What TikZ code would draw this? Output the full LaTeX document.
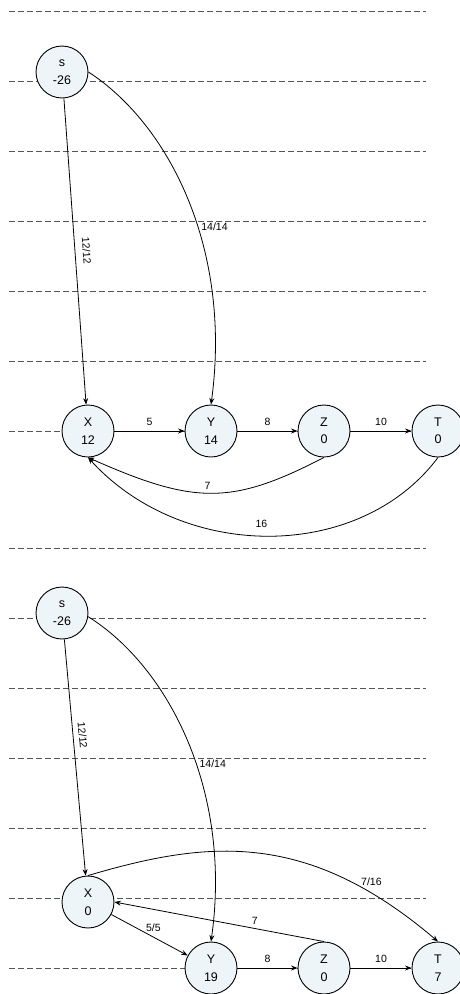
\documentclass[tikz,border=0pt]{standalone}
\usepackage{fontspec}
\setmainfont{Liberation Sans}
\usepackage{xcolor}
\usetikzlibrary{arrows.meta}

\definecolor{vtxfill}{HTML}{EEF5F8}
\definecolor{levelgray}{HTML}{555555}

\begin{document}
\begin{tikzpicture}[x=1pt,y=-1pt,
    vertex/.style={circle,draw,line width=0.9pt,fill=vtxfill,minimum size=52pt,inner sep=0pt,
                   align=center,font=\fontsize{12.5}{17.5}\selectfont},
    flow/.style={-{Stealth[length=6.5pt,width=5pt]},line width=0.8pt},
    lbl/.style={font=\fontsize{10.5}{12}\selectfont},
    level/.style={draw=levelgray,line width=0.75pt,dash pattern=on 5.5pt off 3.5pt}]
  \useasboundingbox (0,0) rectangle (460,994);

  % height levels behind both networks
  \foreach \yy in {11,81,151,221,291,361,431,548,618,688,758,828,898,968}
    \draw[level] (9,\yy) -- (426,\yy);

  % first network
  \node[vertex] (s1) at (62,72) {s\\-26};
  \node[vertex] (x1) at (88,431) {X\\12};
  \node[vertex] (y1) at (211,431) {Y\\14};
  \node[vertex] (z1) at (324,431) {Z\\0};
  \node[vertex] (t1) at (438,431) {T\\0};

  \draw[flow] (s1) -- node[lbl,sloped,above=4pt] {12/12} (x1);
  \draw[flow] (s1.east) .. controls (170,125) and (232,250) .. node[lbl,pos=0.575,anchor=west] {14/14} (y1.north);
  \draw[flow] (x1) -- node[lbl,above=2pt] {5} (y1);
  \draw[flow] (y1) -- node[lbl,above=2pt] {8} (z1);
  \draw[flow] (z1) -- node[lbl,above=2pt] {10} (t1);
  \draw[flow] (z1.south) .. controls (232,505) and (195,505) .. node[lbl,pos=0.52,above] {7} (x1.south);
  \draw[flow] (t1.south) .. controls (360,562) and (183,562) .. node[lbl,pos=0.52,above=4pt] {16} (x1.south);

  % second network
  \node[vertex] (s2) at (62,613) {s\\-26};
  \node[vertex] (x2) at (88,902) {X\\0};
  \node[vertex] (y2) at (211,968) {Y\\19};
  \node[vertex] (z2) at (324,968) {Z\\0};
  \node[vertex] (t2) at (438,968) {T\\7};

  \draw[flow] (s2) -- node[lbl,sloped,above=2pt,pos=0.41] {12/12} (x2);
  \draw[flow] (s2.-8) .. controls (170,668) and (232,793) .. node[lbl,pos=0.56,anchor=west] {14/14} (y2.north);
  \draw[flow] (x2.north) .. controls (208,840) and (307,830) .. node[lbl,pos=0.81,above=1pt,xshift=5pt] {7/16} (t2.north);
  \draw[flow] (x2) -- node[lbl,pos=0.55,above=2pt] {5/5} (y2);
  \draw[flow] (z2.north) -- node[lbl,pos=0.33,above] {7} (x2.east);
  \draw[flow] (y2) -- node[lbl,above=2pt] {8} (z2);
  \draw[flow] (z2) -- node[lbl,above=2pt] {10} (t2);
\end{tikzpicture}
\end{document}
